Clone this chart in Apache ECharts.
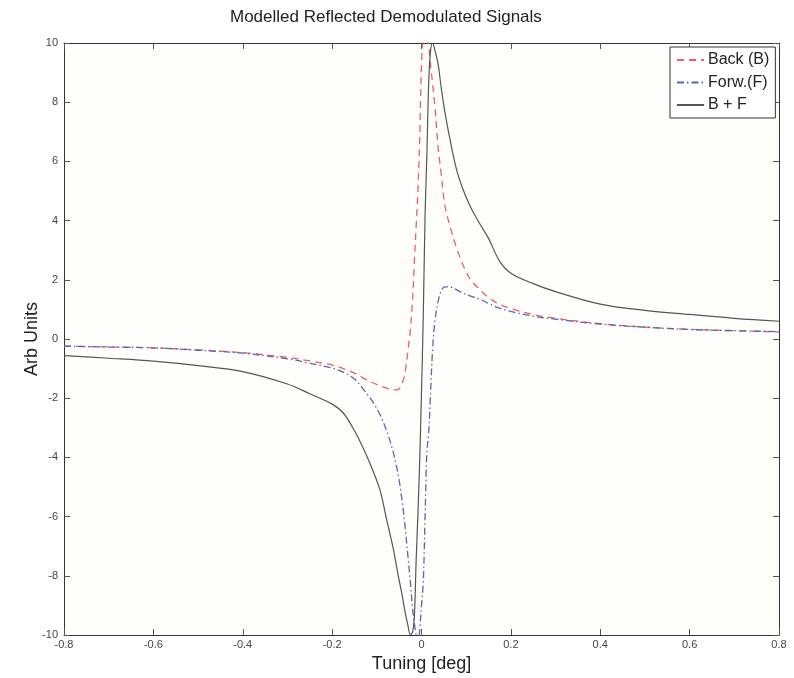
<!DOCTYPE html>
<html>
<head>
<meta charset="utf-8">
<script src="https://cdn.jsdelivr.net/npm/echarts@6/dist/echarts.min.js"></script>
<style>
  html, body { margin: 0; padding: 0; background: #fff; }
  #main { width: 794px; height: 678px; }
</style>
</head>
<body>
<div id="main"></div>
<script>
// tuning values [deg], dense near the resonance
var tuning = [-0.8, -0.7, -0.6, -0.5, -0.4, -0.3, -0.25, -0.2, -0.175, -0.15, -0.13, -0.11,
  -0.093, -0.078, -0.063, -0.052, -0.044, -0.037, -0.03, -0.025, -0.02, -0.016, -0.012, -0.008,
  -0.004, 0, 0.004, 0.008, 0.012, 0.016, 0.02, 0.025, 0.03, 0.037, 0.044, 0.052, 0.063, 0.078,
  0.093, 0.11, 0.13, 0.15, 0.175, 0.2, 0.25, 0.3, 0.4, 0.5, 0.6, 0.7, 0.8];

// Back (B)
var back = [-0.24, -0.27, -0.30, -0.37, -0.46, -0.62, -0.74, -0.88, -1.0, -1.15, -1.32, -1.47,
  -1.58, -1.66, -1.72, -1.70, -1.53, -1.14, -0.35, 0.3, 1.3, 2.6, 3.8, 5.0,
  6.8, 9.3, 10.2, 10.4, 10.2, 9.9, 9.3, 8.6, 7.85, 6.5, 5.6, 4.55, 3.85, 3.1,
  2.5, 2.0, 1.68, 1.4, 1.17, 1.03, 0.83, 0.70, 0.52, 0.40, 0.33, 0.28, 0.24];

// Forw.(F)
var forw = [-0.24, -0.27, -0.30, -0.38, -0.48, -0.67, -0.82, -0.98, -1.12, -1.35, -1.70, -2.1,
  -2.55, -3.1, -3.84, -4.6, -5.4, -6.3, -7.4, -8.2, -9.1, -9.6, -10.0, -10.3,
  -9.8, -9.0, -8.2, -6.0, -3.8, -3.2, -1.9, -0.3, 0.6, 1.25, 1.62, 1.76, 1.76, 1.67,
  1.55, 1.45, 1.35, 1.2, 1.04, 0.93, 0.77, 0.67, 0.50, 0.40, 0.32, 0.28, 0.25];

// B + F
var sum = [-0.56, -0.65, -0.75, -0.90, -1.1, -1.52, -1.85, -2.2, -2.5, -3.1, -3.7, -4.4,
  -5.1, -6.1, -7.1, -8.0, -8.6, -9.2, -9.7, -10.0, -9.9, -9.4, -7.5, -5.9,
  -4.1, -1.8, 0.8, 4.2, 6.2, 8.6, 9.7, 10.0, 9.75, 9.3, 8.5, 7.7, 6.8, 5.75,
  5.05, 4.45, 3.9, 3.4, 2.62, 2.22, 1.87, 1.6, 1.18, 0.97, 0.83, 0.70, 0.60];

var seriesNames = ['Back (B)', 'Forw.(F)', 'B + F'];

function pairs(ys) {
    return tuning.map(function (x, i) { return [x, ys[i]]; });
}

var myChart = echarts.init(document.getElementById('main'));

var axisText = { color: '#444', fontSize: 11, fontFamily: 'Liberation Sans' };

var option = {
    backgroundColor: '#ffffff',
    animation: false,
    title: {
        text: 'Modelled Reflected Demodulated Signals',
        left: 225,
        top: 4,
        textStyle: {
            color: '#222',
            fontSize: 17,
            fontWeight: 'normal',
            fontFamily: 'Liberation Sans'
        }
    },
    legend: {
        orient: 'vertical',
        left: 670,
        top: 47,
        padding: [5, 6, 5, 6],
        itemWidth: 27,
        itemHeight: 14,
        itemGap: 6.5,
        backgroundColor: '#ffffff',
        borderColor: '#333',
        borderWidth: 1,
        borderRadius: 0,
        itemStyle: { opacity: 0 },
        textStyle: {
            color: '#222',
            fontSize: 16,
            lineHeight: 16,
            padding: [0, 0, 0, -1],
            fontFamily: 'Liberation Sans'
        },
        data: seriesNames
    },
    grid: {
        left: 64,
        right: 15,
        top: 43,
        bottom: 42,
        show: true,
        backgroundColor: '#fefefa',
        borderWidth: 0
    },
    xAxis: [{
        type: 'value',
        min: -0.8,
        max: 0.8,
        interval: 0.2,
        name: 'Tuning [deg]',
        nameLocation: 'middle',
        nameGap: 20,
        nameTextStyle: { color: '#222', fontSize: 18, fontFamily: 'Liberation Sans' },
        axisLine: { show: true, onZero: false, lineStyle: { color: '#333', width: 1 } },
        axisTick: { show: true, inside: true, length: 6, lineStyle: { color: '#555' } },
        axisLabel: Object.assign({ margin: 4 }, axisText),
        splitLine: { show: false }
    }, {
        type: 'value',
        position: 'top',
        min: -0.8,
        max: 0.8,
        interval: 0.2,
        axisLine: { show: true, onZero: false, lineStyle: { color: '#333', width: 1 } },
        axisTick: { show: true, inside: true, length: 6, lineStyle: { color: '#555' } },
        axisLabel: { show: false },
        splitLine: { show: false }
    }],
    yAxis: [{
        type: 'value',
        min: -10,
        max: 10,
        interval: 2,
        name: 'Arb Units',
        nameLocation: 'middle',
        nameGap: 23,
        nameMoveOverlap: false,
        nameTextStyle: { color: '#222', fontSize: 18, fontFamily: 'Liberation Sans' },
        axisLine: { show: true, onZero: false, lineStyle: { color: '#333', width: 1 } },
        axisTick: { show: true, inside: true, length: 6, lineStyle: { color: '#555' } },
        axisLabel: Object.assign({ margin: 6 }, axisText),
        splitLine: { show: false }
    }, {
        type: 'value',
        position: 'right',
        min: -10,
        max: 10,
        interval: 2,
        axisLine: { show: true, onZero: false, lineStyle: { color: '#333', width: 1 } },
        axisTick: { show: true, inside: true, length: 6, lineStyle: { color: '#555' } },
        axisLabel: { show: false },
        splitLine: { show: false }
    }],
    series: [
        {
            name: seriesNames[0],
            type: 'line',
            data: pairs(back),
            symbol: 'none',
            smooth: 0.35,
            clip: true,
            itemStyle: { color: '#e8606e' },
            lineStyle: { color: '#e8606e', width: 1.3, type: [7, 5] }
        },
        {
            name: seriesNames[1],
            type: 'line',
            data: pairs(forw),
            symbol: 'none',
            smooth: 0.35,
            clip: true,
            itemStyle: { color: '#5b64b2' },
            lineStyle: { color: '#5b64b2', width: 1.3, type: [7, 3, 1.5, 3] }
        },
        {
            name: seriesNames[2],
            type: 'line',
            data: pairs(sum),
            symbol: 'none',
            smooth: 0.35,
            clip: true,
            itemStyle: { color: '#555555' },
            lineStyle: { color: '#555555', width: 1.2 }
        }
    ]
};

myChart.setOption(option);
</script>
</body>
</html>
